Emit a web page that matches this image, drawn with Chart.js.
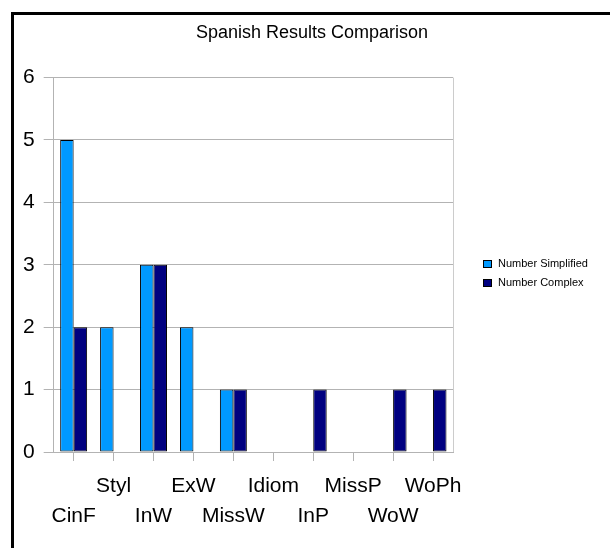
<!DOCTYPE html>
<html>
<head>
<meta charset="utf-8">
<title>Spanish Results Comparison</title>
<script src="https://cdn.jsdelivr.net/npm/chart.js@4/dist/chart.umd.min.js"></script>
<style>
  html, body { margin: 0; padding: 0; background: #ffffff; }
  #wrap { position: relative; width: 610px; height: 548px; overflow: hidden; }
  #frame {
    position: absolute; left: 11px; top: 12px; right: -10px; bottom: -10px;
    border-left: 3px solid #000; border-top: 3px solid #000;
    pointer-events: none;
  }
  canvas { position: absolute; left: 0; top: 0; }
</style>
</head>
<body>
<div id="wrap">
  <canvas id="chart" width="610" height="548"></canvas>
  <div id="frame"></div>
</div>
<script>
// Error categories and counts per system
const categories = ['CinF', 'Styl', 'InW', 'ExW', 'MissW', 'Idiom', 'InP', 'MissP', 'WoW', 'WoPh'];
const simplified = [5, 2, 3, 2, 1, 0, 0, 0, 0, 0];
const complex    = [2, 0, 3, 0, 1, 0, 1, 0, 1, 1];
const yTicks     = [0, 1, 2, 3, 4, 5, 6];

const FONT = "'Liberation Sans', Arial, Helvetica, sans-serif";

// Alternate labels between two rows so they do not collide
const staggered = categories.map((c, i) => (i % 2 === 0 ? ['', c] : [c, '']));

// Right-hand border of the plot area and a compact legend beside it
const plotExtras = {
  id: 'plotExtras',
  beforeDatasetsDraw(chart) {
    const { ctx, chartArea } = chart;
    ctx.save();
    ctx.strokeStyle = '#cccccc';
    ctx.lineWidth = 1;
    ctx.beginPath();
    ctx.moveTo(Math.round(chartArea.right) + 0.5, chartArea.top);
    ctx.lineTo(Math.round(chartArea.right) + 0.5, chartArea.bottom);
    ctx.stroke();
    ctx.restore();
  },
  afterDraw(chart, args, opts) {
    const { ctx } = chart;
    ctx.save();
    ctx.font = '11px ' + FONT;
    ctx.textBaseline = 'middle';
    ctx.textAlign = 'left';
    chart.data.datasets.forEach((ds, i) => {
      const y = opts.top + i * opts.gap;
      const x = opts.left;
      ctx.fillStyle = ds.backgroundColor;
      ctx.fillRect(x, Math.round(y - 4), 9, 8);
      ctx.strokeStyle = '#000';
      ctx.lineWidth = 1;
      ctx.strokeRect(x + 0.5, Math.round(y - 4) + 0.5, 8, 7);
      ctx.fillStyle = '#000';
      ctx.fillText(ds.label, x + 15, y);
    });
    ctx.restore();
  }
};

new Chart(document.getElementById('chart'), {
  type: 'bar',
  data: {
    labels: staggered,
    datasets: [
      {
        label: 'Number Simplified',
        data: simplified,
        backgroundColor: '#0099ff',
        borderColor: '#000000',
        borderWidth: 1,
        borderSkipped: false
      },
      {
        label: 'Number Complex',
        data: complex,
        backgroundColor: '#000080',
        borderColor: '#000000',
        borderWidth: 1,
        borderSkipped: false
      }
    ]
  },
  options: {
    responsive: false,
    animation: false,
    devicePixelRatio: 1,
    layout: { padding: { left: 14, right: 0, top: 0, bottom: 7 } },
    datasets: { bar: { categoryPercentage: 0.675, barPercentage: 1 } },
    plugins: {
      legend: { display: false },
      tooltip: { enabled: false },
      title: {
        display: true,
        text: 'Spanish Results Comparison',
        color: '#000000',
        font: { family: FONT, size: 18, weight: 'normal', lineHeight: 1.2 },
        padding: { top: 22, bottom: 34 }
      },
      plotExtras: { left: 483, top: 263.5, gap: 19 }
    },
    scales: {
      x: {
        offset: true,
        grid: {
          display: true,
          offset: false,
          drawOnChartArea: false,
          drawTicks: true,
          tickLength: 9,
          color: '#b3b3b3'
        },
        border: { display: true, color: '#b3b3b3' },
        ticks: {
          autoSkip: false,
          maxRotation: 0,
          minRotation: 0,
          padding: 10,
          color: '#000000',
          font: { family: FONT, size: 21, lineHeight: 30 / 21 }
        }
      },
      y: {
        min: yTicks[0],
        max: yTicks[yTicks.length - 1],
        afterBuildTicks(scale) { scale.ticks = yTicks.map(v => ({ value: v })); },
        grid: { color: '#b3b3b3', tickLength: 10 },
        border: { display: true, color: '#b3b3b3' },
        ticks: {
          padding: 9,
          color: '#000000',
          font: { family: FONT, size: 21 }
        }
      },
      // empty gutter on the right that holds the legend
      gutter: {
        type: 'linear',
        position: 'right',
        display: true,
        grid: { display: false, drawTicks: false },
        border: { display: false },
        ticks: { display: false },
        afterFit(scale) { scale.width = 157; }
      }
    }
  },
  plugins: [plotExtras]
});
</script>
</body>
</html>
